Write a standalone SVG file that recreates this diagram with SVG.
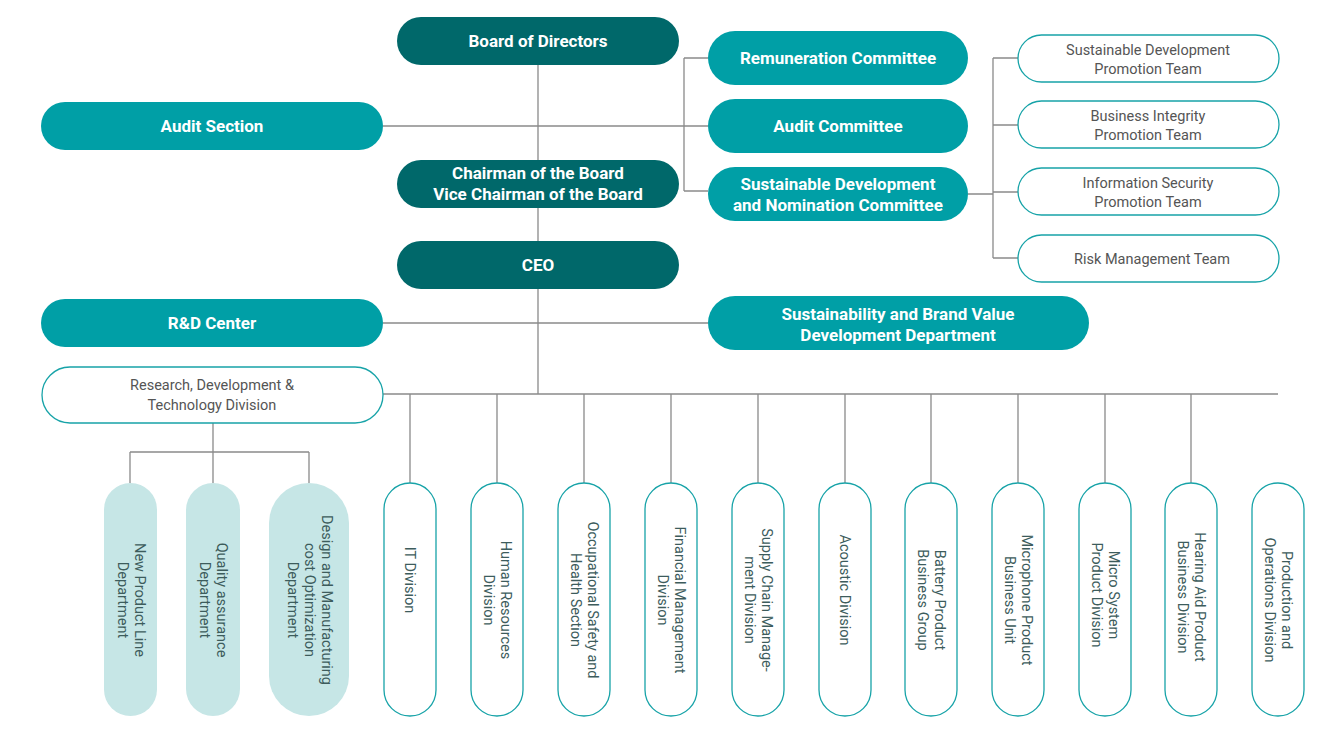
<svg xmlns="http://www.w3.org/2000/svg" width="1333" height="736" viewBox="0 0 1333 736">
<style>
.dk{fill:#00686a}.md{fill:#009fa6}.lt{fill:#c6e6e6}.wh{fill:#fff;stroke:#17a3a8;stroke-width:1.3}
.tw{font-family:Roboto,"Liberation Sans",sans-serif;font-weight:700;font-size:17px;fill:#fff;text-anchor:middle}
.tg{font-family:Roboto,"Liberation Sans",sans-serif;font-size:14.5px;fill:#555;text-anchor:middle}
.tv{font-family:Roboto,"Liberation Sans",sans-serif;font-size:14.5px;fill:#3d5c5c;text-anchor:middle}
.ln{stroke:#8a8a8a;stroke-width:1.3;fill:none}
</style>
<g id="connectors" class="ln">
<path d="M538 65V394M383 126H708M383 323H708M383 394H1278M684 58V191M684 58H708M684 191H708M968 194H993M993 58V258M993 58H1018M993 125H1018M993 192H1018M993 258H1018M213 423V452M130 452H309M130 452V483M309 452V483M213 452V483"/>
<path d="M410 394V483M497 394V483M584 394V483M671 394V483M758 394V483M845 394V483M931 394V483M1018 394V483M1105 394V483M1191 394V483"/>
</g>
<g id="board"><rect class="dk" x="397" y="17" width="282" height="48" rx="24"/><text class="tw" x="538" y="47">Board of Directors</text></g>
<g id="chairman"><rect class="dk" x="397" y="160" width="282" height="48" rx="24"/><text class="tw" x="538" y="179">Chairman of the Board</text><text class="tw" x="538" y="200">Vice Chairman of the Board</text></g>
<g id="ceo"><rect class="dk" x="397" y="241" width="282" height="48" rx="24"/><text class="tw" x="538" y="271">CEO</text></g>
<g id="audit-section"><rect class="md" x="41" y="102" width="342" height="48" rx="24"/><text class="tw" x="212" y="132">Audit Section</text></g>
<g id="rd-center"><rect class="md" x="41" y="299" width="342" height="48" rx="24"/><text class="tw" x="212" y="329">R&amp;D Center</text></g>
<g id="remuneration"><rect class="md" x="708" y="31" width="260" height="54" rx="27"/><text class="tw" x="838" y="64">Remuneration Committee</text></g>
<g id="audit-committee"><rect class="md" x="708" y="99" width="260" height="54" rx="27"/><text class="tw" x="838" y="132">Audit Committee</text></g>
<g id="sdn-committee"><rect class="md" x="708" y="167" width="260" height="54" rx="27"/><text class="tw" x="838" y="190">Sustainable Development</text><text class="tw" x="838" y="211">and Nomination Committee</text></g>
<g id="brand"><rect class="md" x="708" y="296" width="381" height="54" rx="27"/><text class="tw" x="898" y="320">Sustainability and Brand Value</text><text class="tw" x="898" y="341">Development Department</text></g>
<g id="sd-team"><rect class="wh" x="1018" y="35" width="261" height="47" rx="23.5"/><text class="tg" x="1148" y="55">Sustainable Development</text><text class="tg" x="1148" y="74">Promotion Team</text></g>
<g id="bi-team"><rect class="wh" x="1018" y="101" width="261" height="47" rx="23.5"/><text class="tg" x="1148" y="121">Business Integrity</text><text class="tg" x="1148" y="140">Promotion Team</text></g>
<g id="is-team"><rect class="wh" x="1018" y="168" width="261" height="47" rx="23.5"/><text class="tg" x="1148" y="188">Information Security</text><text class="tg" x="1148" y="207">Promotion Team</text></g>
<g id="risk-team"><rect class="wh" x="1018" y="235" width="261" height="47" rx="23.5"/><text class="tg" x="1152" y="264">Risk Management Team</text></g>
<g id="rdt-division"><rect class="wh" x="42" y="367" width="341" height="56" rx="28"/><text class="tg" x="212" y="390">Research, Development &amp;</text><text class="tg" x="212" y="410">Technology Division</text></g>
<g id="npl"><rect class="lt" x="104" y="483" width="53" height="233" rx="26.5"/><text class="tv" transform="translate(130.5 600) rotate(90)"><tspan x="0" y="-4">New Product Line</tspan><tspan x="0" y="13">Department</tspan></text></g>
<g id="qa"><rect class="lt" x="186" y="483" width="54" height="233" rx="27"/><text class="tv" transform="translate(213 600) rotate(90)"><tspan x="0" y="-4">Quality assurance</tspan><tspan x="0" y="13">Department</tspan></text></g>
<g id="dmco"><rect class="lt" x="269" y="483" width="80" height="233" rx="40"/><text class="tv" transform="translate(309 600) rotate(90)"><tspan x="0" y="-13">Design and Manufacturing</tspan><tspan x="0" y="4">cost Optimization</tspan><tspan x="0" y="21">Department</tspan></text></g>
<g id="it"><rect class="wh" x="384" y="483" width="52" height="233" rx="26"/><text class="tv" transform="translate(410 580) rotate(90)"><tspan x="0" y="5">IT Division</tspan></text></g>
<g id="hr"><rect class="wh" x="471" y="483" width="52" height="233" rx="26"/><text class="tv" transform="translate(497 600) rotate(90)"><tspan x="0" y="-4">Human Resources</tspan><tspan x="0" y="13">Division</tspan></text></g>
<g id="osh"><rect class="wh" x="558" y="483" width="52" height="233" rx="26"/><text class="tv" transform="translate(584 600) rotate(90)"><tspan x="0" y="-4">Occupational Safety and</tspan><tspan x="0" y="13">Health Section</tspan></text></g>
<g id="fm"><rect class="wh" x="645" y="483" width="52" height="233" rx="26"/><text class="tv" transform="translate(671 600) rotate(90)"><tspan x="0" y="-4">Financial Management</tspan><tspan x="0" y="13">Division</tspan></text></g>
<g id="scm"><rect class="wh" x="732" y="483" width="52" height="233" rx="26"/><text class="tv" transform="translate(758 600) rotate(90)"><tspan x="0" y="-4">Supply Chain Manage-</tspan><tspan x="0" y="13">ment Division</tspan></text></g>
<g id="acoustic"><rect class="wh" x="819" y="483" width="52" height="233" rx="26"/><text class="tv" transform="translate(845 590) rotate(90)"><tspan x="0" y="5">Acoustic Division</tspan></text></g>
<g id="battery"><rect class="wh" x="905" y="483" width="52" height="233" rx="26"/><text class="tv" transform="translate(931 600) rotate(90)"><tspan x="0" y="-4">Battery Product</tspan><tspan x="0" y="13">Business Group</tspan></text></g>
<g id="microphone"><rect class="wh" x="992" y="483" width="52" height="233" rx="26"/><text class="tv" transform="translate(1018 600) rotate(90)"><tspan x="0" y="-4">Microphone Product</tspan><tspan x="0" y="13">Business Unit</tspan></text></g>
<g id="microsystem"><rect class="wh" x="1079" y="483" width="52" height="233" rx="26"/><text class="tv" transform="translate(1105 595) rotate(90)"><tspan x="0" y="-4">Micro System</tspan><tspan x="0" y="13">Product Division</tspan></text></g>
<g id="hearing"><rect class="wh" x="1165" y="483" width="52" height="233" rx="26"/><text class="tv" transform="translate(1191 597) rotate(90)"><tspan x="0" y="-4">Hearing Aid Product</tspan><tspan x="0" y="13">Business Division</tspan></text></g>
<g id="production"><rect class="wh" x="1252" y="483" width="52" height="233" rx="26"/><text class="tv" transform="translate(1278 600) rotate(90)"><tspan x="0" y="-4">Production and</tspan><tspan x="0" y="13">Operations Division</tspan></text></g>
</svg>
